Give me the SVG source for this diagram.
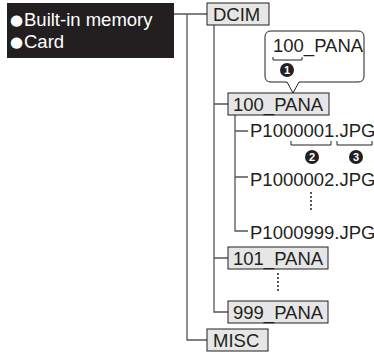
<svg xmlns="http://www.w3.org/2000/svg" width="374" height="352" viewBox="0 0 374 352">
<style>
.t{font-family:"Liberation Sans",Arial,sans-serif;font-size:18.5px;fill:#231f20}
.w{fill:#ffffff}
.box{fill:#e6e6e6;stroke:#231f20;stroke-width:1}
.ln{fill:none;stroke:#555555;stroke-width:1.3}
.br{fill:none;stroke:#231f20;stroke-width:1}
.dot{fill:none;stroke:#231f20;stroke-width:2;stroke-linecap:round;stroke-dasharray:0 4}
.num{font-family:"Liberation Sans",Arial,sans-serif;font-size:11px;font-weight:bold;fill:#ffffff;text-anchor:middle}
.bul{font-family:"DejaVu Sans",sans-serif;font-size:15px}
</style>
<rect width="374" height="352" fill="#ffffff"/>
<g id="connectors">
<path class="ln" d="M174 14H207M187 14V340H207"/>
<path class="ln" d="M214 25V312H228M214 104H228M214 258H228"/>
<path class="ln" d="M235 115V231H248M235 131H248M235 177H248"/>
<line class="dot" x1="311" y1="193" x2="311" y2="213"/>
<line class="dot" x1="278" y1="274" x2="278" y2="294"/>
</g>
<g id="media">
<rect x="7" y="3" width="167" height="55" fill="#231f20"/>
<text class="t w" y="26"><tspan class="bul" x="10" dy="-1">●</tspan><tspan x="24" dy="1">Built-in memory</tspan></text>
<text class="t w" y="48"><tspan class="bul" x="10" dy="-1">●</tspan><tspan x="24" dy="1">Card</tspan></text>
</g>
<g id="dcim">
<rect class="box" x="207" y="3" width="62" height="22"/>
<text class="t" x="213" y="21">DCIM</text>
</g>
<g id="callout1">
<path d="M271 31H358Q364 31 364 37V76Q364 82 358 82H299L293 93L287 82H271Q265 82 265 76V37Q265 31 271 31Z" fill="#ffffff" stroke="#231f20" stroke-width="1"/>
<text class="t" x="273" y="52" font-size="17">100_PANA</text>
<path class="br" d="M273 57V60H302V57"/>
<circle cx="287" cy="70" r="7" fill="#231f20"/>
<text class="num" x="287" y="74">1</text>
</g>
<g id="pana100">
<rect class="box" x="228" y="93" width="101" height="22"/>
<text class="t" x="233" y="111">100_PANA</text>
</g>
<g id="file1">
<text class="t" x="250" y="137" font-size="17.5">P1000001.JPG</text>
<path class="br" d="M291 141V145H331V141M337 141V145H372V141"/>
<circle cx="312" cy="157" r="7" fill="#231f20"/>
<text class="num" x="312" y="161">2</text>
<circle cx="356" cy="157" r="7" fill="#231f20"/>
<text class="num" x="356" y="161">3</text>
</g>
<g id="file2">
<text class="t" x="250" y="186" font-size="17.5">P1000002.JPG</text>
</g>
<g id="file999">
<text class="t" x="250" y="239" font-size="17.5">P1000999.JPG</text>
</g>
<g id="pana101">
<rect class="box" x="228" y="247" width="100" height="22"/>
<text class="t" x="233" y="265">101_PANA</text>
</g>
<g id="pana999">
<rect class="box" x="228" y="301" width="100" height="22"/>
<text class="t" x="233" y="319">999_PANA</text>
</g>
<g id="misc">
<rect class="box" x="207" y="329" width="61" height="22"/>
<text class="t" x="213" y="347">MISC</text>
</g>
</svg>
